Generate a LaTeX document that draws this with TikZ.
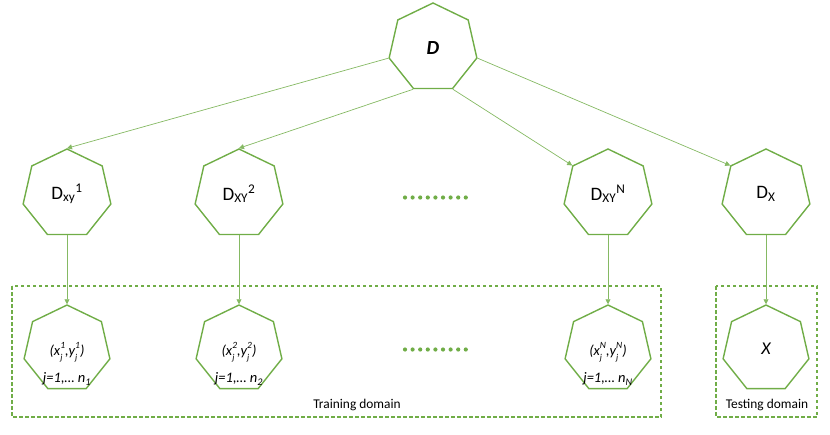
\documentclass[tikz,border=0pt]{standalone}
\usepackage{fontspec}
\setmainfont{Carlito}
\usetikzlibrary{positioning,arrows.meta,shapes.geometric}
\definecolor{leaf}{HTML}{70AD47}
\newcommand{\jsup}[1]{\rlap{\raisebox{-0.3em}{\fontsize{9}{9}\selectfont j}}\raisebox{0.5em}{\fontsize{9.5}{10}\selectfont #1}}

\begin{document}
\begin{tikzpicture}[
  x=1pt, y=1pt,
  node distance=69pt,
  hepta/.style={draw=leaf, line width=1.4pt, regular polygon, regular polygon sides=7, minimum size=90pt, inner sep=0pt, font=\fontsize{19}{21}\selectfont},
  sample/.style={align=center, font=\itshape\fontsize{14.5}{17}\selectfont},
  domlabel/.style={font=\fontsize{13.4}{15}\selectfont},
  frame/.style={draw=leaf, line width=1.3pt, dash pattern=on 3.5pt off 2.5pt},
  ar/.style={-{Triangle[length=5pt, width=5pt]}, draw=leaf!85, line width=0.7pt}
]
\useasboundingbox (0,0) rectangle (830,-434);
% source and per-domain distributions
\node[hepta, font=\fontsize{20}{22}\selectfont] (d) at (433,-48) {\textbf{\textit{D}}};
\node[hepta] (xy1) at (67,-194) {D\textsubscript{xy}\textsuperscript{1}};
\node[hepta] (xy2) at (239,-194) {D\textsubscript{XY}\textsuperscript{2}};
\node[hepta] (xyN) at (608,-194) {D\textsubscript{XY}\textsuperscript{N}};
\node[hepta] (dx) at (766,-194) {D\textsubscript{X}};
% samples
\node[hepta, minimum size=88pt, below=of xy1] (s1) {};
\node[hepta, minimum size=88pt, below=of xy2] (s2) {};
\node[hepta, minimum size=88pt, below=of xyN] (sN) {};
\node[hepta, minimum size=88pt, below=of dx, font=\itshape\fontsize{18}{20}\selectfont] (x) {X};
\node[sample] (t1) at ([yshift=-15pt]s1.center) {(x\jsup{1},y\jsup{1})\\[10pt] j=1,… n\textsubscript{1}};
\node[sample] (t2) at ([yshift=-15pt]s2.center) {(x\jsup{2},y\jsup{2})\\[10pt] j=1,… n\textsubscript{2}};
\node[sample] (tN) at ([yshift=-15pt]sN.center) {(x\jsup{N},y\jsup{N})\\[10pt] j=1,… n\textsubscript{N}};
% domains
\draw[frame] (12,-286) rectangle (661,-417);
\draw[frame] (716,-286) rectangle (817,-417);
\node[domlabel] (train) at (357,-405) {Training domain};
\node[domlabel] (test) at (767,-405) {Testing domain};
% dots
\foreach \i in {0,...,8} {
  \fill[leaf] (405+\i*7.6,-197.5) circle (2.1);
  \fill[leaf] (405+\i*7.6,-349.5) circle (2.1);
}
\draw[ar] (d.corner 3) -- (xy1.corner 1);
\draw[ar] (d.corner 4) -- (xy2.corner 1);
\draw[ar] (d.corner 5) -- (xyN.corner 2);
\draw[ar] (d.corner 6) -- (dx.corner 2);
\draw[ar] (xy1.south) -- (s1.north);
\draw[ar] (xy2.south) -- (s2.north);
\draw[ar] (xyN.south) -- (sN.north);
\draw[ar] (dx.south) -- (x.north);
\end{tikzpicture}
\end{document}
